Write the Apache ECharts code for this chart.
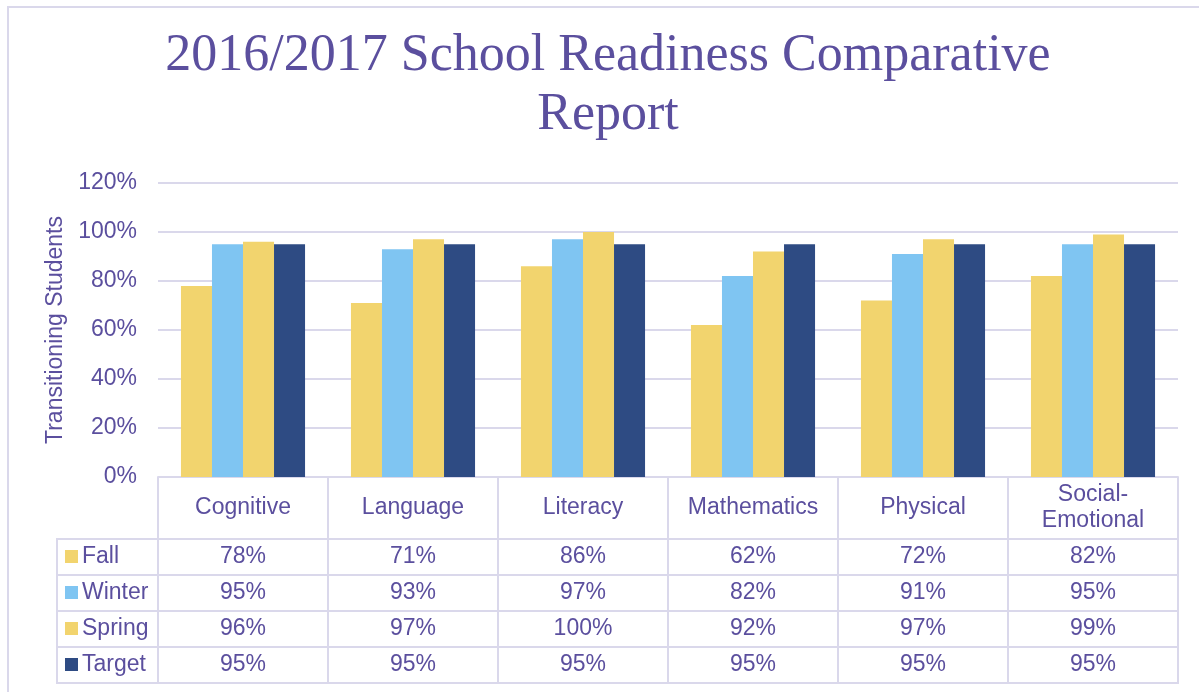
<!DOCTYPE html>
<html>
<head>
<meta charset="utf-8">
<title>2016/2017 School Readiness Comparative Report</title>
<script src="https://cdn.jsdelivr.net/npm/echarts@6/dist/echarts.min.js"></script>
<style>
  html, body { margin: 0; padding: 0; background: #fff; }
  #chart { width: 1199px; height: 692px; }
</style>
</head>
<body>
<div id="chart"></div>
<script>
// data
var domains = ['Cognitive', 'Language', 'Literacy', 'Mathematics', 'Physical', 'Social-\nEmotional']
var seasons = ['Fall', 'Winter', 'Spring', 'Target']
var fall = [78, 71, 86, 62, 72, 82]
var winter = [95, 93, 97, 82, 91, 95]
var spring = [96, 97, 100, 92, 97, 99]
var target = [95, 95, 95, 95, 95, 95]
var yTicks = [0, 20, 40, 60, 80, 100, 120]

var seasonValues = [fall, winter, spring, target]
var seasonColors = ['#F2D46E', '#7FC5F2', '#F2D46E', '#2E4B83']

var purple = '#5B4F9E'
var lineColor = '#DAD8EB'
var font = '"Liberation Sans", Arial, sans-serif'
var legendColWidth = 101

var chart = echarts.init(document.getElementById('chart'))

// cells of the data table: [domain index, season index, value]
var tableData = []
seasonValues.forEach(function (vals, r) {
  vals.forEach(function (v, c) {
    tableData.push([c, r, v])
  })
})

function renderCell(params, api) {
  var ci = api.value(0)
  var ri = api.value(1)
  var pt = api.coord([ci, ri])
  var size = api.size([1, 1])
  var w = size[0]
  var h = size[1]
  var top = pt[1] - h / 2
  var children = [{
    type: 'rect',
    shape: { x: pt[0] - w / 2, y: top, width: w, height: h },
    style: { fill: '#fff', stroke: lineColor, lineWidth: 2 }
  }, {
    type: 'text',
    style: {
      x: pt[0], y: pt[1], text: api.value(2) + '%',
      align: 'center', verticalAlign: 'middle',
      fill: purple, font: '23px ' + font
    }
  }]
  if (ci === 0) {
    var lx = params.coordSys.x - legendColWidth
    children.push({
      type: 'rect',
      shape: { x: lx, y: top, width: legendColWidth, height: h },
      style: { fill: '#fff', stroke: lineColor, lineWidth: 2 }
    }, {
      type: 'rect',
      shape: { x: lx + 8, y: pt[1] - 7, width: 13, height: 13 },
      style: { fill: seasonColors[ri] }
    }, {
      type: 'text',
      style: {
        x: lx + 25, y: pt[1], text: seasons[ri],
        align: 'left', verticalAlign: 'middle',
        fill: purple, font: '23px ' + font
      }
    })
  }
  return { type: 'group', children: children }
}

var barSeries = seasons.map(function (name, i) {
  return {
    name: name,
    type: 'bar',
    xAxisIndex: 0,
    yAxisIndex: 0,
    barGap: 0,
    barCategoryGap: '27%',
    itemStyle: { color: seasonColors[i] },
    emphasis: { disabled: true },
    data: seasonValues[i]
  }
})

chart.setOption({
  backgroundColor: '#fff',
  animation: false,
  graphic: [{
    type: 'rect',
    z: -10,
    shape: { x: 8, y: 7, width: 1300, height: 800 },
    style: { fill: 'none', stroke: lineColor, lineWidth: 2 }
  }, {
    type: 'text',
    x: 608,
    y: 27,
    style: {
      text: '2016/2017 School Readiness Comparative\nReport',
      align: 'center',
      verticalAlign: 'top',
      lineHeight: 59,
      fill: purple,
      font: '52px "Liberation Serif", "DejaVu Serif", serif'
    }
  }],
  grid: [{
    left: 158,
    right: 21,
    top: 183,
    height: 294,
    outerBoundsMode: 'none'
  }, {
    left: 158,
    right: 21,
    top: 539,
    height: 144,
    outerBoundsMode: 'none'
  }],
  xAxis: [{
    type: 'category',
    gridIndex: 0,
    data: domains,
    axisLine: { show: true, lineStyle: { color: lineColor, width: 2 } },
    axisTick: {
      show: true,
      interval: 0,
      length: 62,
      lineStyle: { color: lineColor, width: 2 }
    },
    axisLabel: {
      interval: 0,
      margin: 31,
      verticalAlign: 'middle',
      color: purple,
      fontFamily: font,
      fontSize: 23,
      lineHeight: 26
    }
  }, {
    type: 'category',
    gridIndex: 1,
    data: domains,
    show: false
  }],
  yAxis: [{
    type: 'value',
    gridIndex: 0,
    min: yTicks[0],
    max: yTicks[yTicks.length - 1],
    interval: yTicks[1] - yTicks[0],
    name: 'Transitioning Students',
    nameLocation: 'middle',
    nameRotate: 90,
    nameGap: 90,
    nameTextStyle: { color: purple, fontFamily: font, fontSize: 23 },
    axisLine: { show: false },
    axisTick: { show: false },
    axisLabel: {
      margin: 21,
      color: purple,
      fontFamily: font,
      fontSize: 23,
      formatter: '{value}%'
    },
    splitLine: { lineStyle: { color: lineColor, width: 2 } }
  }, {
    type: 'category',
    gridIndex: 1,
    data: seasons,
    inverse: true,
    show: false
  }],
  series: barSeries.concat([{
    type: 'custom',
    name: 'table',
    xAxisIndex: 1,
    yAxisIndex: 1,
    clip: false,
    silent: true,
    renderItem: renderCell,
    data: tableData
  }])
})
</script>
</body>
</html>
